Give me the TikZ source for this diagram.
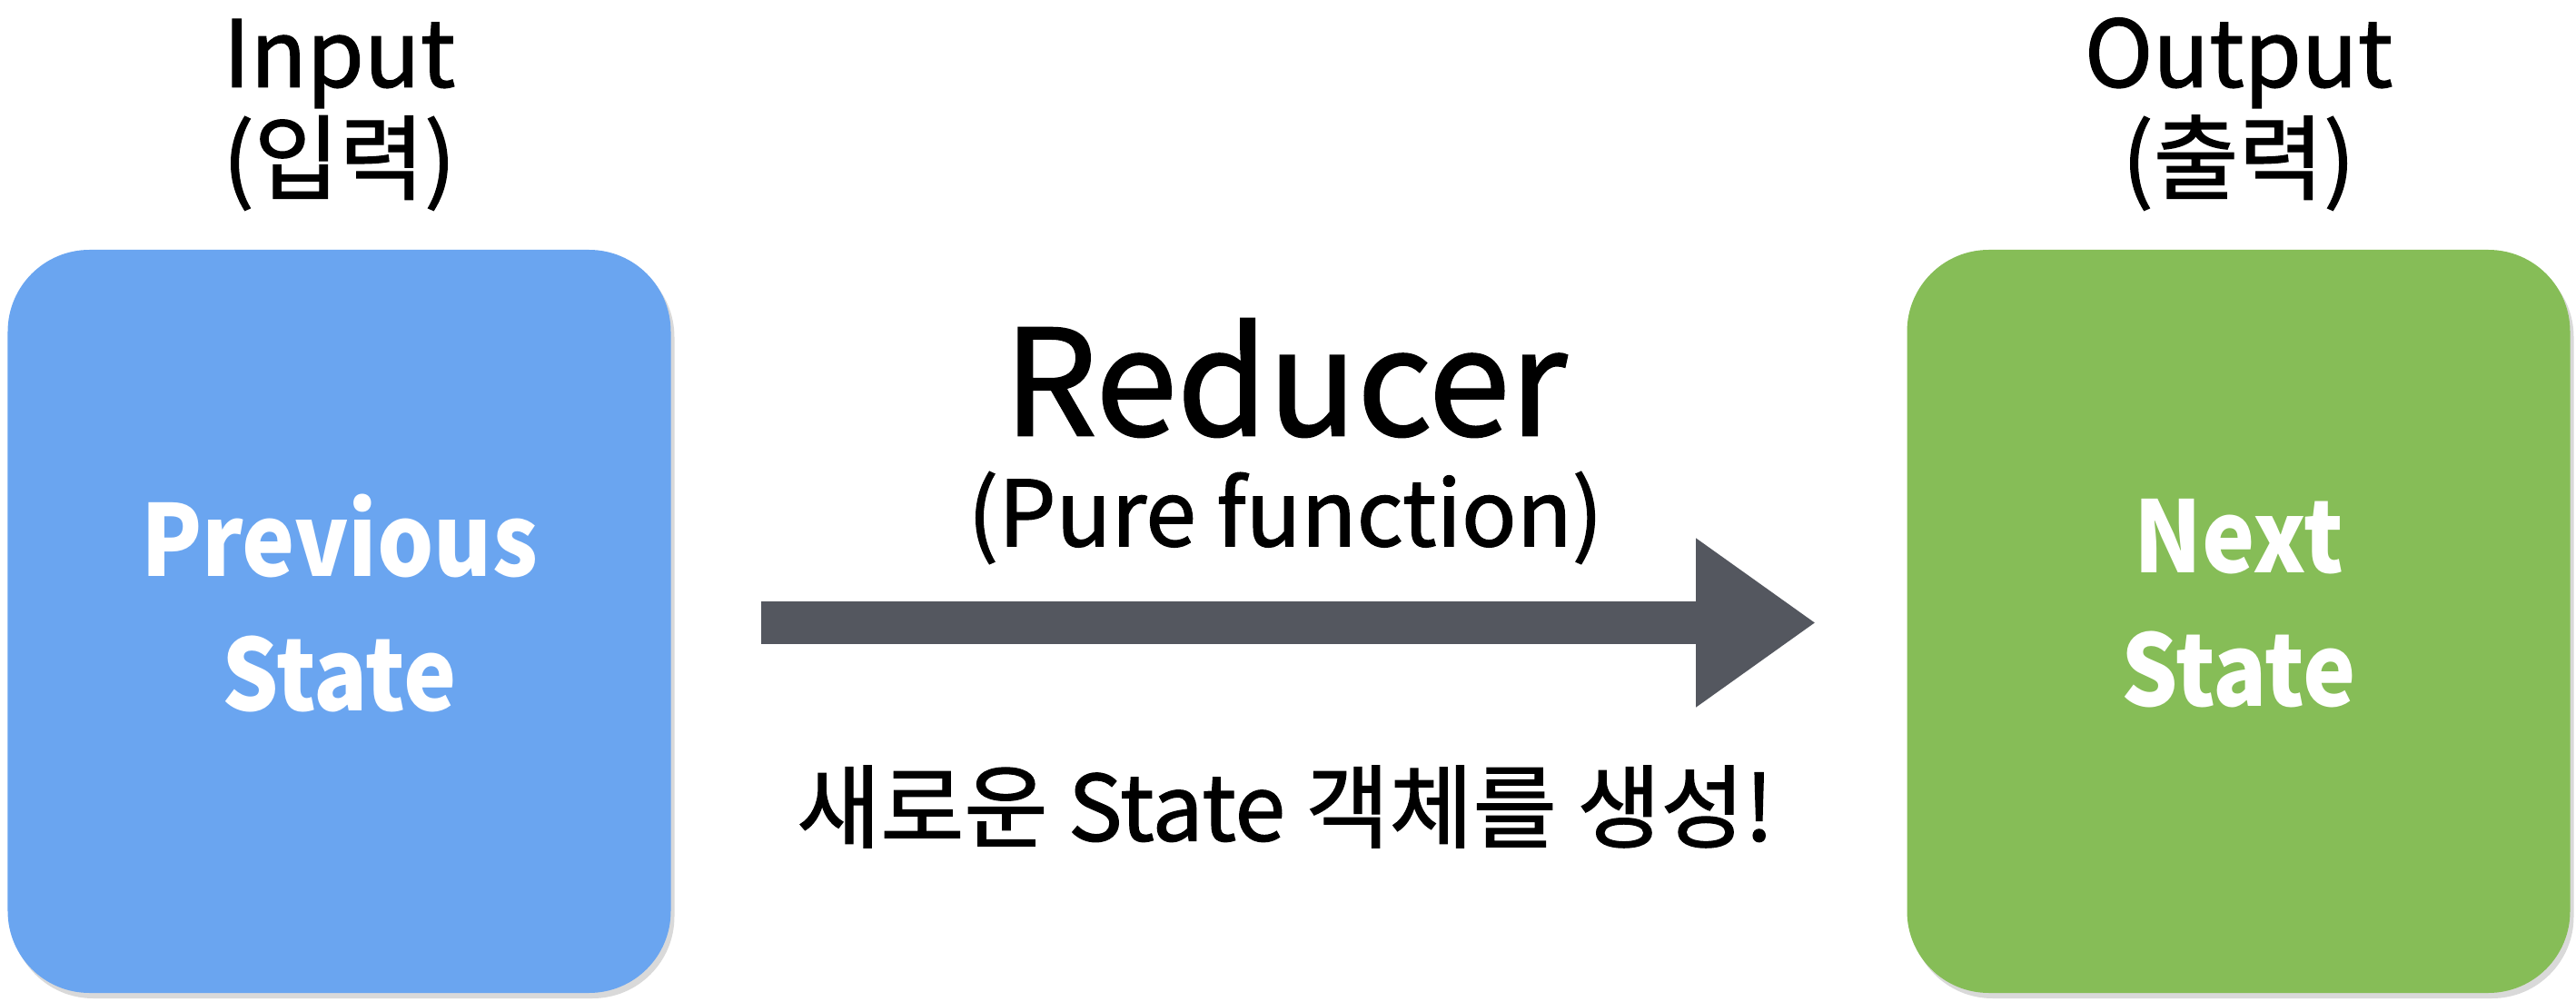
\documentclass[tikz,border=0pt]{standalone}
\usepackage{fontspec}
\setmainfont{Noto Sans CJK KR}
\newfontfamily\medfont[FakeBold=1.3]{Noto Sans CJK KR}
\usepackage{xcolor}
\usepackage{tikz}
\usetikzlibrary{calc, positioning, shadows, arrows.meta}

\definecolor{prevblue}{RGB}{106,165,240}
\definecolor{nextgreen}{RGB}{134,189,87}
\definecolor{arrowgray}{RGB}{84,87,95}

\begin{document}
\begin{tikzpicture}[>=latex,
        statebox/.style={rounded corners=0.9cm, minimum width=7.3cm, minimum height=8.18cm, inner sep=0pt,
            drop shadow={shadow xshift=0.04cm, shadow yshift=-0.06cm, opacity=0.3}},
        boxtext/.style={text=white, align=center, inner sep=0pt, xscale=0.9, transform shape,
            font=\bfseries\fontsize{31}{42}\selectfont},
        toptext/.style={align=center, inner sep=0pt, font=\medfont\fontsize{29}{33}\selectfont}]
    \useasboundingbox (0,0) rectangle (28.36,11.02);

    % 1. 상자
    \node[statebox, fill=prevblue] (prev) at (3.735,4.18) {};
    \node[statebox, fill=nextgreen] (next) at (24.645,4.18) {};
    \node[boxtext] (prevtxt) at ([yshift=0.2cm]prev.center) {Previous\\State};
    \node[boxtext] (nexttxt) at ([yshift=0.2cm]next.center) {Next\\State};

    % 2. 입력, 출력
    \node[toptext, above=0.42cm of prev] (input) {Input\\(입력)};
    \node[toptext, above=0.42cm of next] (output) {Output\\(출력)};

    % 3. 화살표
    \coordinate (astart) at (8.38,4.165);
    \coordinate (aend) at (19.99,4.165);
    \draw[arrowgray, line width=0.47cm, -{Triangle[length=1.32cm, width=1.77cm]}] (astart) -- (aend);

    % 4. 가운데 글
    \node[font=\medfont\fontsize{46}{50}\selectfont] (reducer) at (14.15,6.86) {Reducer};
    \node[font=\medfont\fontsize{28.5}{33}\selectfont] (pure) at (14.15,5.32) {(Pure function)};
    \node[font=\medfont\fontsize{28.5}{32}\selectfont] (newstate) at (14.15,2.14) {새로운 State 객체를 생성!};
\end{tikzpicture}
\end{document}
